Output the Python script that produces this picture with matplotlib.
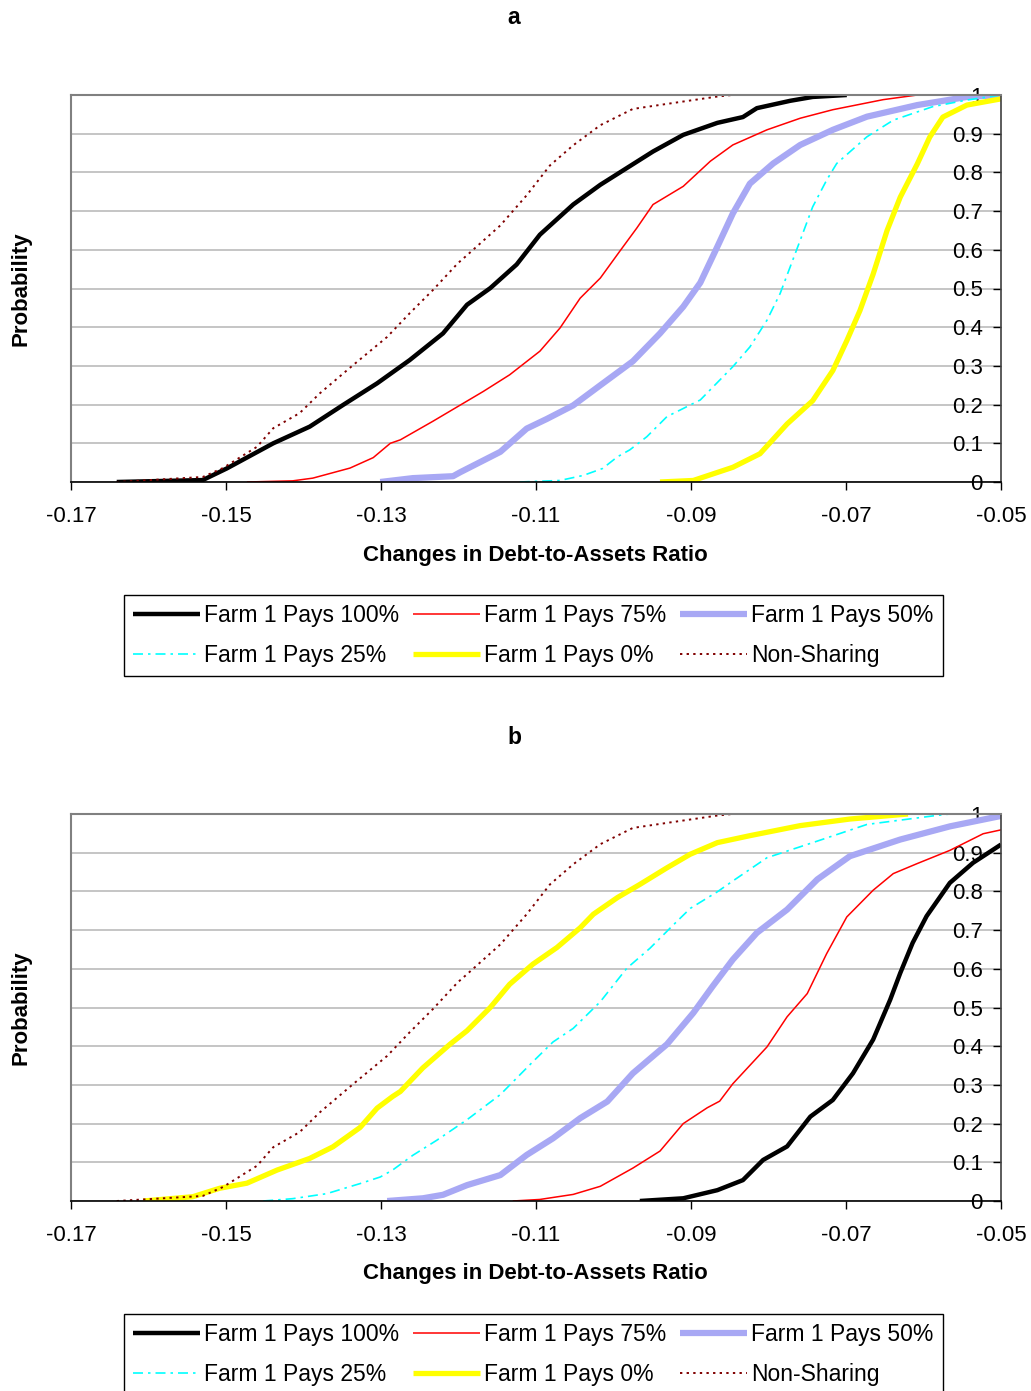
import matplotlib
matplotlib.use("Agg")
import matplotlib.pyplot as plt

plt.rcParams['font.family'] = ['Liberation Sans', 'DejaVu Sans']

# ---------------- data (x = change in debt-to-assets ratio, p = cumulative probability)
labels = ["Farm 1 Pays 100%", "Farm 1 Pays 75%", "Farm 1 Pays 50%",
          "Farm 1 Pays 25%", "Farm 1 Pays 0%", "Non-Sharing"]
x_ticks = [-0.17, -0.15, -0.13, -0.11, -0.09, -0.07, -0.05]
x_ticklabels = ["-0.17", "-0.15", "-0.13", "-0.11", "-0.09", "-0.07", "-0.05"]
y_ticks = [0, 0.1, 0.2, 0.3, 0.4, 0.5, 0.6, 0.7, 0.8, 0.9, 1.0]
y_ticklabels = ["0", "0.1", "0.2", "0.3", "0.4", "0.5", "0.6", "0.7", "0.8", "0.9", "1"]

# Non-sharing (same in both panels)
ns_x = [-0.1641, -0.1530, -0.1504, -0.1460, -0.1439, -0.1405, -0.1379, -0.1336, -0.1292,
        -0.1263, -0.1233, -0.1201, -0.1189, -0.1146, -0.1112, -0.1082, -0.1052, -0.1017,
        -0.0975, -0.0931, -0.0866, -0.0847]
ns_p = [0, 0.013, 0.036, 0.091, 0.139, 0.178, 0.229, 0.302, 0.375, 0.436, 0.496, 0.565,
        0.586, 0.663, 0.741, 0.818, 0.870, 0.922, 0.964, 0.977, 0.996, 1.0]

# Panel a
a100_x = [-0.1641, -0.1530, -0.1499, -0.1439, -0.1392, -0.1349, -0.1305, -0.1263, -0.1220,
          -0.1189, -0.1159, -0.1125, -0.1095, -0.1052, -0.1017, -0.0983, -0.0949, -0.0910,
          -0.0866, -0.0833, -0.0815, -0.0772, -0.0743, -0.0699]
a100_p = [0, 0.005, 0.035, 0.1, 0.143, 0.199, 0.255, 0.315, 0.384, 0.458, 0.501, 0.562,
          0.639, 0.717, 0.768, 0.811, 0.854, 0.897, 0.928, 0.943, 0.966, 0.985, 0.995, 1.0]

a75_x = [-0.1473, -0.1414, -0.1388, -0.1340, -0.1310, -0.1288, -0.1275, -0.1233, -0.1168,
         -0.1134, -0.1095, -0.1069, -0.1043, -0.1017, -0.0992, -0.0970, -0.0949, -0.0910,
         -0.0875, -0.0846, -0.0802, -0.0759, -0.0717, -0.0652, -0.0608]
a75_p = [0, 0.003, 0.01, 0.036, 0.063, 0.1, 0.109, 0.157, 0.234, 0.277, 0.338, 0.398, 0.475,
         0.527, 0.596, 0.656, 0.717, 0.764, 0.829, 0.871, 0.91, 0.94, 0.962, 0.988, 1.0]

a50_x = [-0.1301, -0.1259, -0.1207, -0.1198, -0.1146, -0.1112, -0.1086, -0.1052, -0.1017,
         -0.0975, -0.0940, -0.0910, -0.0888, -0.0866, -0.0846, -0.0824, -0.0794, -0.0759,
         -0.0717, -0.0673, -0.0608, -0.0544, -0.0500]
a50_p = [0, 0.01, 0.015, 0.025, 0.078, 0.138, 0.163, 0.198, 0.25, 0.312, 0.384, 0.453, 0.515,
         0.608, 0.694, 0.771, 0.823, 0.871, 0.91, 0.944, 0.974, 0.995, 1.0]

a25_x = [-0.1121, -0.1069, -0.1039, -0.1014, -0.0995, -0.0979, -0.0957, -0.0931, -0.0888,
         -0.0846, -0.0824, -0.0802, -0.0785, -0.0772, -0.0759, -0.0743, -0.0725, -0.0712,
         -0.0673, -0.0639, -0.0588, -0.0544, -0.0500]
a25_p = [0, 0.004, 0.017, 0.035, 0.065, 0.083, 0.117, 0.169, 0.212, 0.298, 0.349, 0.418,
         0.487, 0.556, 0.625, 0.711, 0.78, 0.823, 0.892, 0.935, 0.97, 0.987, 1.0]

a0_x = [-0.0940, -0.0897, -0.0846, -0.0811, -0.0776, -0.0743, -0.0717, -0.0699, -0.0682,
        -0.0665, -0.0647, -0.0630, -0.0608, -0.0592, -0.0575, -0.0544, -0.0500]
a0_p = [0, 0.004, 0.038, 0.073, 0.15, 0.21, 0.288, 0.365, 0.443, 0.537, 0.65, 0.736, 0.822,
        0.891, 0.943, 0.974, 0.99]

# Panel b
b100_x = [-0.0966, -0.0910, -0.0866, -0.0833, -0.0807, -0.0776, -0.0746, -0.0717, -0.0691,
          -0.0665, -0.0643, -0.0630, -0.0614, -0.0596, -0.0566, -0.0536, -0.0500]
b100_p = [0, 0.007, 0.028, 0.054, 0.106, 0.141, 0.218, 0.261, 0.33, 0.417, 0.52, 0.589,
          0.667, 0.736, 0.822, 0.874, 0.921]

b75_x = [-0.1130, -0.1095, -0.1052, -0.1017, -0.0975, -0.0940, -0.0910, -0.0879, -0.0863,
         -0.0846, -0.0802, -0.0776, -0.0750, -0.0725, -0.0699, -0.0665, -0.0639, -0.0608,
         -0.0566, -0.0523, -0.0500]
b75_p = [0, 0.004, 0.017, 0.038, 0.085, 0.129, 0.2, 0.241, 0.258, 0.303, 0.398, 0.476, 0.536,
         0.639, 0.734, 0.803, 0.846, 0.872, 0.906, 0.949, 0.959]

b50_x = [-0.1292, -0.1246, -0.1220, -0.1189, -0.1146, -0.1112, -0.1078, -0.1043, -0.1008,
         -0.0975, -0.0931, -0.0897, -0.0872, -0.0846, -0.0815, -0.0776, -0.0737, -0.0695,
         -0.0630, -0.0566, -0.0500]
b50_p = [0, 0.007, 0.016, 0.041, 0.067, 0.119, 0.162, 0.214, 0.257, 0.33, 0.405, 0.486,
         0.555, 0.624, 0.693, 0.753, 0.831, 0.891, 0.934, 0.968, 0.995]

b25_x = [-0.1452, -0.1414, -0.1370, -0.1327, -0.1301, -0.1285, -0.1259, -0.1228, -0.1189,
         -0.1146, -0.1104, -0.1078, -0.1052, -0.1017, -0.0983, -0.0953, -0.0923, -0.0901,
         -0.0866, -0.0846, -0.0802, -0.0737, -0.0673, -0.0588, -0.0566]
b25_p = [0, 0.006, 0.019, 0.045, 0.062, 0.08, 0.118, 0.157, 0.21, 0.275, 0.36, 0.411, 0.446,
         0.515, 0.601, 0.653, 0.713, 0.756, 0.799, 0.827, 0.887, 0.93, 0.973, 0.995, 1.0]

b0_x = [-0.1607, -0.1543, -0.1508, -0.1473, -0.1434, -0.1392, -0.1362, -0.1327, -0.1305,
        -0.1285, -0.1275, -0.1246, -0.1211, -0.1189, -0.1159, -0.1134, -0.1104, -0.1073,
        -0.1043, -0.1026, -0.0995, -0.0966, -0.0931, -0.0901, -0.0866, -0.0824, -0.0759,
        -0.0695, -0.0643, -0.0620]
b0_p = [0, 0.011, 0.033, 0.046, 0.08, 0.11, 0.14, 0.19, 0.24, 0.27, 0.283, 0.344, 0.405, 0.44,
        0.5, 0.56, 0.612, 0.655, 0.706, 0.741, 0.784, 0.818, 0.861, 0.896, 0.926, 0.944, 0.97,
        0.987, 0.996, 1.0]

# ---------------- styles
styles = [
    dict(color="black", lw=3.2, ls="-"),
    dict(color="#FF0000", lw=1.1, ls="-"),
    dict(color="#A8A8F4", lw=4.5, ls="-"),
    dict(color="#00FFFF", lw=1.2, ls=(0, (6, 3, 1.5, 3))),
    dict(color="#FFFF00", lw=3.8, ls="-"),
    dict(color="#800000", lw=1.4, ls=(0, (1.2, 2.2))),
]

W, H = 1031, 1391
fig = plt.figure(figsize=(W / 100, H / 100), dpi=100)

FS = 16
LFS = 16.5


def make_panel(top_px, series, title, legend_center_px):
    left, right, bottom = 71, 1001, top_px + 387
    ax = fig.add_axes([left / W, 1 - bottom / H, (right - left) / W, 387 / H])
    ax.set_xlim(-0.17, -0.05)
    ax.set_ylim(0, 1)
    ax.set_yticks(y_ticks)
    ax.set_yticklabels(y_ticklabels)
    ax.set_xticks(x_ticks)
    ax.set_xticklabels(x_ticklabels)
    ax.grid(axis="y", color="#C0C0C0", lw=1.3)
    ax.set_axisbelow(True)
    handles = []
    for (xs, ps), lab, st in zip(series, labels, styles):
        h, = ax.plot(xs, ps, color=st["color"], lw=st["lw"], linestyle=st["ls"],
                     label=lab, solid_capstyle="butt")
        handles.append(h)
    for s in ["top", "left"]:
        ax.spines[s].set_color("#808080")
        ax.spines[s].set_linewidth(1.5)
    ax.spines["bottom"].set_color("black")
    ax.spines["bottom"].set_linewidth(1.2)
    ax.spines["right"].set_color("#404040")
    ax.spines["right"].set_linewidth(1.2)
    ax.yaxis.set_ticks_position("right")
    ax.tick_params(axis="y", direction="in", length=6, width=1, pad=-13,
                   labelsize=FS, labelright=True, labelleft=False)
    for t in ax.get_yticklabels():
        t.set_horizontalalignment("right")
    ax.tick_params(axis="x", direction="out", length=6, width=1, pad=11, labelsize=FS)
    fig.text(514 / W, 1 - (top_px - 77) / H, title, ha="center", va="center",
             fontsize=16.5, fontweight="bold")
    fig.text(535 / W, 1 - (bottom + 73) / H, "Changes in Debt-to-Assets Ratio",
             ha="center", va="center", fontsize=FS, fontweight="bold")
    fig.text(21 / W, 1 - (top_px + 194) / H, "Probability", ha="center", va="center",
             rotation=90, fontsize=FS, fontweight="bold")
    # legend filled row-wise like the original (matplotlib fills column-wise)
    order = [0, 3, 1, 4, 2, 5]
    leg = ax.legend(handles=[handles[i] for i in order], loc="center",
                    bbox_to_anchor=(legend_center_px[0] / W, 1 - legend_center_px[1] / H),
                    bbox_transform=fig.transFigure, ncol=3, fontsize=LFS,
                    frameon=True, fancybox=False, edgecolor="black", framealpha=1,
                    handlelength=2.9, handletextpad=0.2, columnspacing=0.6,
                    labelspacing=0.7, borderpad=0.4, borderaxespad=0)
    leg.get_frame().set_linewidth(1.0)
    return ax


series_a = [(a100_x, a100_p), (a75_x, a75_p), (a50_x, a50_p), (a25_x, a25_p),
            (a0_x, a0_p), (ns_x, ns_p)]
series_b = [(b100_x, b100_p), (b75_x, b75_p), (b50_x, b50_p), (b25_x, b25_p),
            (b0_x, b0_p), (ns_x, ns_p)]

make_panel(95, series_a, "a", (533.5, 635.5))
make_panel(814, series_b, "b", (533.5, 1354.5))

fig.savefig("out.png", dpi=100)
